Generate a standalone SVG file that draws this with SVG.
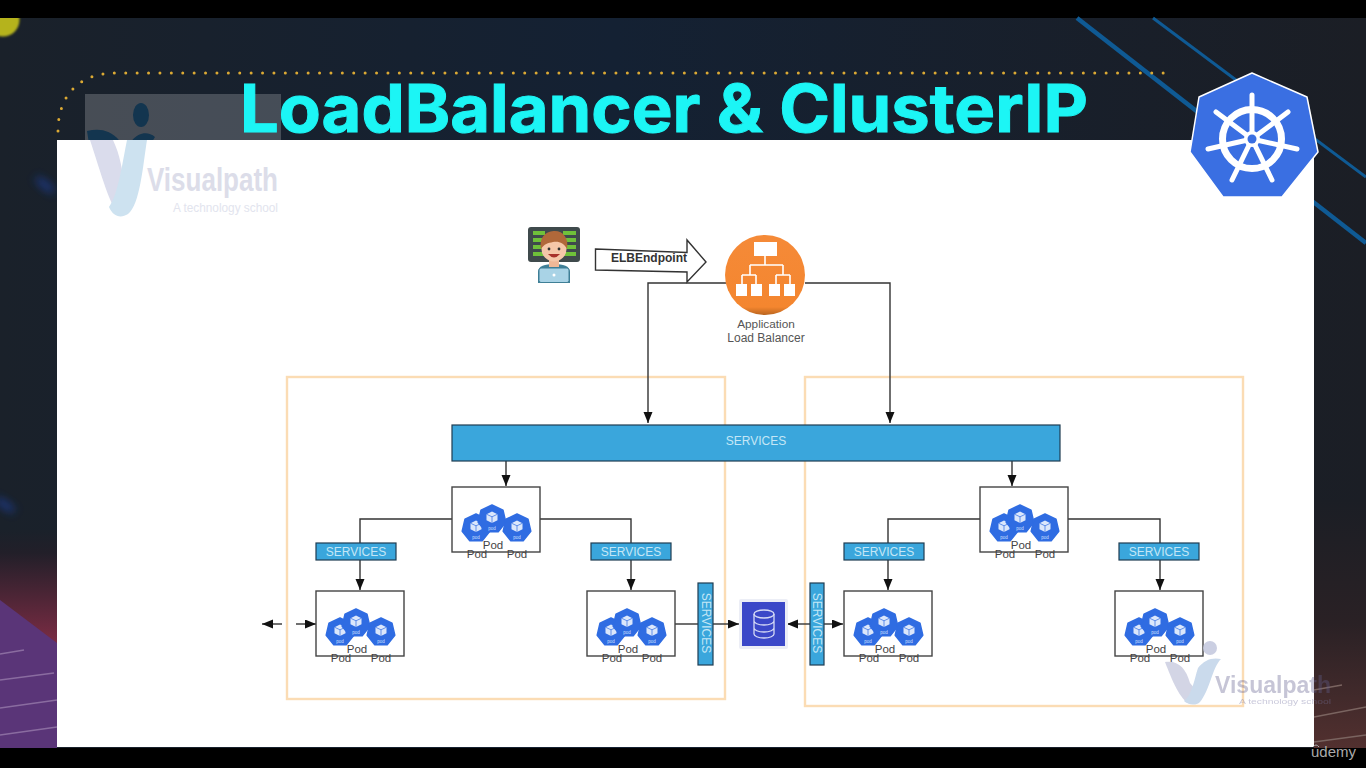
<svg xmlns="http://www.w3.org/2000/svg" width="1366" height="768" viewBox="0 0 1366 768">
<style>
text{font-family:"Liberation Sans",Arial,sans-serif}
.conn{fill:none;stroke:#333;stroke-width:1.4}
.box{fill:#fff;stroke:#444;stroke-width:1.4}
.zone{fill:none;stroke:#fbdcb4;stroke-width:2.4}
.svc{fill:#3aa6dc;stroke:#1f3d52;stroke-width:1.2}
.svct{fill:#c4e6f6;font-size:12px;text-anchor:middle}
.pod{fill:#444;font-size:11.5px;text-anchor:middle}
.wmt{font-weight:700;font-size:34px}
.wms{font-size:12.5px}
</style>
<defs>
<marker id="ah" markerWidth="12" markerHeight="10" refX="11" refY="4.500" orient="auto" markerUnits="userSpaceOnUse"><path d="M0 0L11 4.500L0 9Z" fill="#111"/></marker>
<linearGradient id="bg" x1="0" y1="0" x2="1" y2="0"><stop offset="0" stop-color="#1a212a"/><stop offset=".45" stop-color="#142133"/><stop offset="1" stop-color="#1b1e25"/></linearGradient>
<linearGradient id="red" x1="0" y1="0" x2="0" y2="1"><stop offset="0" stop-color="#1a212a"/><stop offset=".2" stop-color="#221f29"/><stop offset="1" stop-color="#7d2c44"/></linearGradient>
<linearGradient id="red2" x1="0" y1="0" x2="0" y2="1"><stop offset="0" stop-color="#1b1e25"/><stop offset=".5" stop-color="#2a2125"/><stop offset="1" stop-color="#52302f"/></linearGradient>
<linearGradient id="orb" x1="0" y1="0" x2="0" y2="1"><stop offset="0" stop-color="#f58a38"/><stop offset=".9" stop-color="#f4862f"/><stop offset="1" stop-color="#b9651f"/></linearGradient>
<filter id="soft" x="-100%" y="-100%" width="300%" height="300%"><feGaussianBlur stdDeviation="4"/></filter>
<filter id="soft1" x="-30%" y="-30%" width="160%" height="160%"><feGaussianBlur stdDeviation="1.200"/></filter>
<clipPath id="topc"><rect x="0" y="18" width="1366" height="122"/></clipPath>
<clipPath id="ballc"><rect x="0" y="18" width="30" height="30"/></clipPath>
<g id="hept"><path d="M0 -14L11 -8.800L13.800 3.200L6.200 12.800L-6.200 12.800L-13.800 3.200L-11 -8.800Z" fill="#2f6ce2" stroke="#2f6ce2" stroke-width="1.500" stroke-linejoin="round"/><path d="M0 -7.500L5.500 -4.800V1.200L0 4L-5.500 1.200V-4.800Z" fill="#dbe7fb"/><path d="M-5.500 -4.800L0 -2.200L5.500 -4.800M0 -2.200V4" fill="none" stroke="#2f6ce2" stroke-width=".7"/><text x="0" y="10.500" font-size="4.500" text-anchor="middle" fill="#cfe0ff">pod</text></g>
<g id="pods"><use href="#hept" x="24" y="41"/><use href="#hept" x="40" y="32"/><use href="#hept" x="65" y="41"/><text class="pod" x="41" y="62">Pod</text><text class="pod" x="25" y="71">Pod</text><text class="pod" x="65" y="71">Pod</text></g>
</defs>

<g id="background">
<rect width="1366" height="768" fill="#000"/>
<rect x="0" y="18" width="1366" height="730" fill="url(#bg)"/>
<rect x="0" y="530" width="57" height="115" fill="url(#red)"/>
<path d="M0 600L57 643V748H0Z" fill="#5a3578"/>
<path d="M0 654L24 650M0 680L54 673M0 708L57 700M0 735L57 727" stroke="#8a6ca0" stroke-width="1.600" fill="none"/>
<rect x="1314" y="500" width="52" height="248" fill="url(#red2)"/>
<path d="M1314 690L1342 685M1314 717L1366 707M1314 742L1366 735" stroke="#7a6460" stroke-width="1.400" fill="none"/>
<g clip-path="url(#ballc)"><circle cx="3" cy="20" r="16.500" fill="#b5b31e" filter="url(#soft1)"/></g>
<ellipse cx="45" cy="185" rx="12" ry="4" transform="rotate(40 45 185)" fill="#1c3f9c" opacity=".7" filter="url(#soft)"/>
<ellipse cx="5" cy="505" rx="12" ry="4" transform="rotate(35 5 505)" fill="#1c3f9c" opacity=".7" filter="url(#soft)"/>
<path d="M1077 18L1366 243" stroke="#0f5a94" stroke-width="4.500" fill="none"/>
<path d="M1153 18L1366 177" stroke="#0f5a94" stroke-width="3" fill="none"/>
<path d="M58 131C58 95 80 73 115 73L1166 73" fill="none" stroke="#dcaa34" stroke-width="3" stroke-linecap="round" stroke-dasharray="0 11.400"/>
<rect x="85" y="94" width="196" height="46" fill="#fff" opacity=".2"/>
<text x="240" y="132" font-size="66" font-weight="700" fill="#1cf5f5" stroke="#1cf5f5" stroke-width="1" textLength="848" lengthAdjust="spacingAndGlyphs" style="font-family:Inter,'Liberation Sans',sans-serif">LoadBalancer &amp; ClusterIP</text>
<rect x="57" y="140" width="1257" height="607" fill="#fff"/>
<g id="watermark-top">
<g clip-path="url(#topc)"><ellipse cx="141" cy="115" rx="8" ry="12" fill="#13354f"/><path d="M87 131C103 127 117 132 125 150L127 150C131 136 145 128 155 137L147 150H90Z" fill="#13354f"/></g>
<path d="M90 140H113C120 155 123 170 124 190L120 213C112 214 100 170 90 140Z" fill="#dadcec"/>
<path d="M127 140H147C143 165 140 205 128 214C120 219 113 216 109 207C118 195 122 165 127 140Z" fill="#cde2f0"/>
<text class="wmt" x="147" y="191" fill="#dcdde9" textLength="131" lengthAdjust="spacingAndGlyphs">Visualpath</text>
<text class="wms" x="173" y="212" fill="#e2e4ee" textLength="105" lengthAdjust="spacingAndGlyphs">A technology school</text>
</g>
</g>

<g id="zones">
<rect id="zone-left" class="zone" x="287" y="377" width="438" height="322"/>
<rect id="zone-right" class="zone" x="805" y="377" width="438" height="329"/>
</g>

<g id="connectors">
<path class="conn" d="M726 283H648V423" marker-end="url(#ah)"/>
<path class="conn" d="M805 283H890V423" marker-end="url(#ah)"/>
<path class="conn" d="M506 461V486" marker-end="url(#ah)"/>
<path class="conn" d="M1012 461V486" marker-end="url(#ah)"/>
<path class="conn" d="M452 519H360V543"/>
<path class="conn" d="M360 560V590" marker-end="url(#ah)"/>
<path class="conn" d="M540 519H631V543"/>
<path class="conn" d="M631 560V590" marker-end="url(#ah)"/>
<path class="conn" d="M980 519H888V543"/>
<path class="conn" d="M888 560V590" marker-end="url(#ah)"/>
<path class="conn" d="M1068 519H1160V543"/>
<path class="conn" d="M1160 560V590" marker-end="url(#ah)"/>
<path class="conn" d="M675 624H698"/>
<path class="conn" d="M713 624H739" marker-end="url(#ah)"/>
<path class="conn" d="M810 624H787" marker-end="url(#ah)"/>
<path class="conn" d="M824 624H843" marker-end="url(#ah)"/>
<path class="conn" d="M282 624H262" marker-end="url(#ah)"/>
<path class="conn" d="M296 624H316" marker-end="url(#ah)"/>
</g>

<g id="user">
<rect x="528" y="227" width="52" height="35" rx="3" fill="#3f4a4c"/>
<path d="M533 233h12M533 240h10M533 247h10M533 254h12M563 233h13M565 240h11M565 247h11M562 254h14" stroke="#6fc13a" stroke-width="4" fill="none"/>
<path d="M538 283V272C538 266 545 264 554 264C563 264 570 266 570 272V283Z" fill="#3f7f96"/>
<rect x="549" y="258" width="10" height="9" fill="#f0b897"/>
<circle cx="554" cy="249" r="12.500" fill="#f5c7a9"/>
<path d="M541 249C539 236 547 231 555 231C563 231 569 238 567 249C564 243 559 241 553 242C548 243 544 244 541 249Z" fill="#b0683a"/>
<circle cx="549" cy="249" r="1.400" fill="#333"/><circle cx="559" cy="249" r="1.400" fill="#333"/>
<path d="M548 254Q554 261 560 254Z" fill="#a8322c"/>
<rect x="539" y="268" width="30" height="14.500" rx="2" fill="#a9d3e6" stroke="#3f7f96"/>
<circle cx="554" cy="275" r="1.500" fill="#fff"/>
</g>

<g id="elb-endpoint">
<path d="M595.500 249L687 252.500V240L706 262L687 282V272L595.500 270Z" fill="#fff" stroke="#333" stroke-width="1.400"/>
<text x="649" y="262" font-size="12" font-weight="700" fill="#333" text-anchor="middle">ELBEndpoint</text>
</g>

<g id="alb">
<circle cx="765" cy="275" r="40" fill="url(#orb)"/>
<path d="M765 256V265M750 265H783M750 265V275M783 265V275M742 275H756M776 275H790M742 275V284M756 275V284M776 275V284M790 275V284" stroke="#fff" stroke-width="1.600" fill="none"/>
<rect x="754" y="242" width="23" height="14" fill="#fff"/>
<rect x="736" y="284" width="11" height="12" fill="#fff"/><rect x="751" y="284" width="11" height="12" fill="#fff"/><rect x="769" y="284" width="11" height="12" fill="#fff"/><rect x="784" y="284" width="11" height="12" fill="#fff"/>
<text x="766" y="328" font-size="11.800" fill="#555" text-anchor="middle">Application</text>
<text x="766" y="342" font-size="12" fill="#555" text-anchor="middle">Load Balancer</text>
</g>

<g id="services-main"><rect class="svc" x="452" y="425" width="608" height="36"/><text class="svct" x="756" y="445">SERVICES</text></g>

<g id="svc-1"><rect class="svc" x="316" y="543" width="80" height="17"/><text class="svct" x="356" y="556">SERVICES</text></g>
<g id="svc-2"><rect class="svc" x="591" y="543" width="80" height="17"/><text class="svct" x="631" y="556">SERVICES</text></g>
<g id="svc-3"><rect class="svc" x="844" y="543" width="80" height="17"/><text class="svct" x="884" y="556">SERVICES</text></g>
<g id="svc-4"><rect class="svc" x="1119" y="543" width="80" height="17"/><text class="svct" x="1159" y="556">SERVICES</text></g>
<g id="svc-v1"><rect class="svc" x="698" y="583" width="15" height="82"/><text class="svct" transform="translate(701.500 623) rotate(90)">SERVICES</text></g>
<g id="svc-v2"><rect class="svc" x="810" y="583" width="14" height="82"/><text class="svct" transform="translate(813 623) rotate(90)">SERVICES</text></g>

<g id="pod-top-left"><rect class="box" x="452" y="487" width="88" height="65"/><use href="#pods" x="452" y="487"/></g>
<g id="pod-top-right"><rect class="box" x="980" y="487" width="88" height="65"/><use href="#pods" x="980" y="487"/></g>
<g id="pod-a"><rect class="box" x="316" y="591" width="88" height="65"/><use href="#pods" x="316" y="591"/></g>
<g id="pod-b"><rect class="box" x="587" y="591" width="88" height="65"/><use href="#pods" x="587" y="591"/></g>
<g id="pod-c"><rect class="box" x="844" y="591" width="88" height="65"/><use href="#pods" x="844" y="591"/></g>
<g id="pod-d"><rect class="box" x="1115" y="591" width="88" height="65"/><use href="#pods" x="1115" y="591"/></g>

<g id="database">
<rect x="739" y="599" width="49" height="50" rx="2" fill="#eceef6"/>
<rect x="742" y="602" width="43" height="44" fill="#3b48c8"/>
<g fill="none" stroke="#d6daf5" stroke-width="1.300"><ellipse cx="764" cy="614" rx="10" ry="4"/><path d="M754 614V634C754 636 758 638 764 638C770 638 774 636 774 634V614M754 621C754 623 758 625 764 625C770 625 774 623 774 621M754 628C754 630 758 632 764 632C770 632 774 630 774 628"/></g>
</g>

<g id="kubernetes-logo">
<path d="M1252 73L1307 97L1318 152L1282 197H1223L1190 152L1199 97Z" fill="#3a6fe2" stroke="#fff" stroke-width="1.500" stroke-linejoin="round"/>
<circle cx="1252" cy="139" r="29.500" fill="none" stroke="#fff" stroke-width="7"/>
<g stroke="#fff" stroke-width="5" stroke-linecap="round"><path d="M1252 139V95M1252 139L1288 112M1252 139L1297 149M1252 139L1272 180M1252 139L1232 180M1252 139L1208 149M1252 139L1216 112"/></g>
<circle cx="1252" cy="139" r="8" fill="#fff"/><circle cx="1252" cy="139" r="4.500" fill="#3a6fe2"/>
</g>

<g id="watermark-bottom" opacity=".9">
<circle cx="1210" cy="648" r="7" fill="#c6cadf"/>
<path d="M1165 662C1178 660 1186 668 1190 683L1196 690L1190 704C1180 700 1172 680 1165 662Z" fill="#cfd1e3"/>
<path d="M1198 668C1204 660 1212 657 1221 659C1212 668 1210 690 1200 702C1196 706 1188 705 1184 701C1192 695 1194 680 1198 668Z" fill="#c5d6ea"/>
<text x="1215" y="693" font-size="24" font-weight="700" fill="#62608f" opacity=".4" textLength="116" lengthAdjust="spacingAndGlyphs">Visualpath</text>
<text x="1239" y="704" font-size="8" fill="#7a78a5" opacity=".45" textLength="92" lengthAdjust="spacingAndGlyphs">A technology school</text>
</g>

<g id="udemy">
<path d="M1313 747Q1316 743 1319 747" fill="none" stroke="#aaa" stroke-width="1"/>
<text x="1311" y="757" font-size="15" fill="#aaa" textLength="45" lengthAdjust="spacingAndGlyphs">udemy</text>
</g>
</svg>
